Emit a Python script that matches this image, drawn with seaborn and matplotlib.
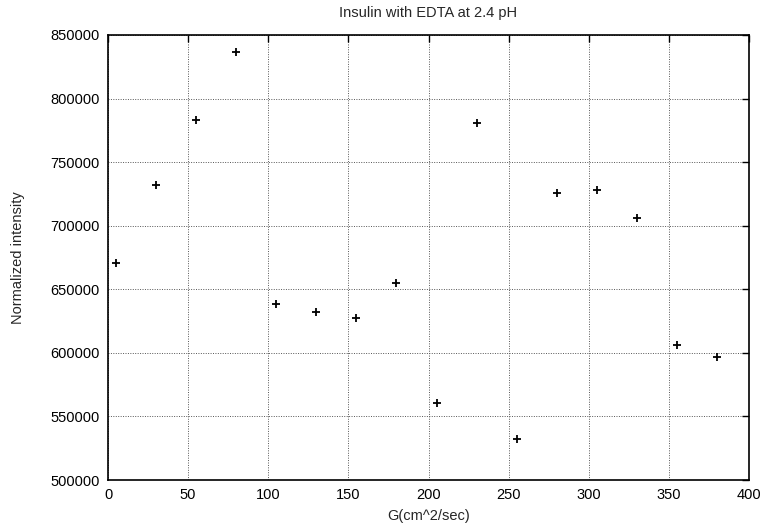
import pandas as pd
import matplotlib
matplotlib.use("Agg")
import matplotlib.pyplot as plt
import seaborn as sns

# datos
g_vals = [5, 30, 55, 80, 105, 130, 155, 180, 205, 230, 255, 280, 305, 330, 355, 380]
intensidad = [670700, 732400, 783000, 836400, 638400, 632400, 627400, 655000,
              560900, 780700, 532200, 725600, 728000, 705700, 606000, 596900]

df = pd.DataFrame({"G": g_vals, "I": intensidad})

sns.set_style("white")
plt.rcParams["font.family"] = ["Liberation Sans", "DejaVu Sans"]

fig = plt.figure(figsize=(7.64, 5.31), dpi=100)
ax = fig.add_axes([108 / 764, 51 / 531, 641 / 764, 445 / 531])

sns.scatterplot(data=df, x="G", y="I", marker="+", color="black",
                s=36, linewidth=1.3, ax=ax, legend=False)

ax.set_xlim(0, 400)
ax.set_ylim(500000, 850000)
ax.set_xticks(range(0, 401, 50))
ax.set_yticks(range(500000, 850001, 50000))

# rejilla punteada estilo gnuplot
ax.grid(True, linestyle=(0, (1, 1.5)), color="#555555", linewidth=0.7)
for s in ax.spines.values():
    s.set_color("black")
    s.set_linewidth(1.2)
ax.tick_params(direction="in", length=5, width=1, top=True, right=True,
               labelsize=10.5, colors="black", pad=6)

ax.set_xlabel("G(cm^2/sec)", fontsize=10.5, labelpad=5)
ax.set_ylabel("Normalized intensity", fontsize=10.5, labelpad=18)
ax.set_title("Insulin with EDTA at 2.4 pH", fontsize=10.5, pad=13)

fig.savefig("out.png", dpi=100)
